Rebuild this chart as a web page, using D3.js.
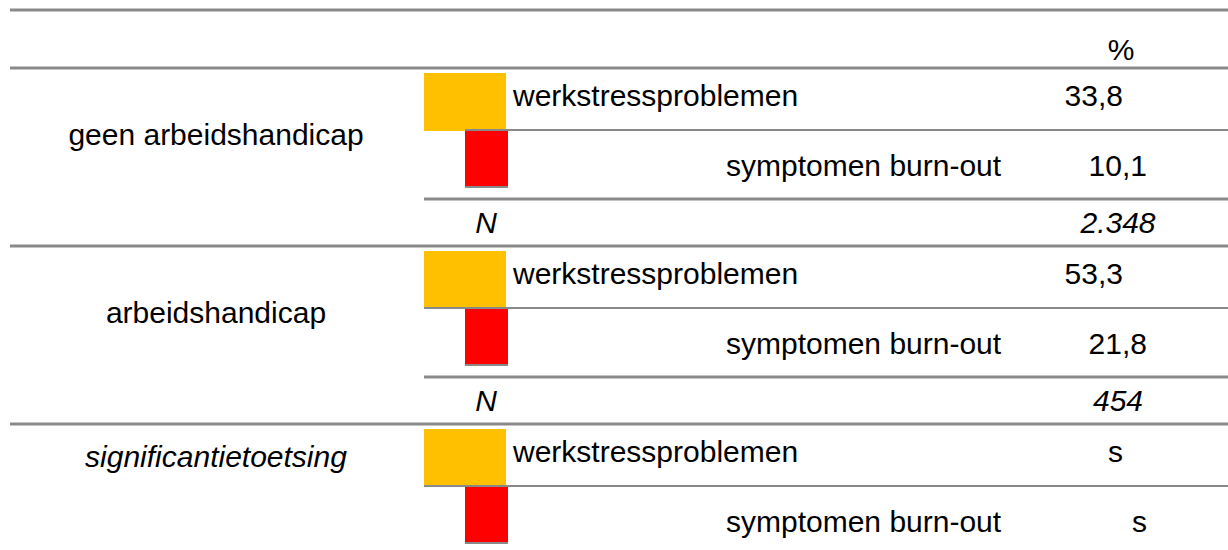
<!DOCTYPE html>
<html>
<head>
<meta charset="utf-8">
<script src="https://cdn.jsdelivr.net/npm/d3@7"></script>
<style>
  body { margin: 0; background: #fff; }
  text { font-family: "Liberation Sans", Arial, sans-serif; font-size: 30px; fill: #000; }
</style>
</head>
<body>
<div id="chart"></div>
<script>
// data
var groepen = ["geen arbeidshandicap", "arbeidshandicap", "significantietoetsing"]
var reeksen = ["werkstressproblemen", "symptomen burn-out"]
var werkstress = [33.8, 53.3, "s"]
var burnout = [10.1, 21.8, "s"]
var aantal = [2348, 454, null]
var kleuren = ["#FFC000", "#FF0000"]
var kolomKop = "%"

var width = 1228
var height = 550
var lijnKleur = "#898989"

var svg = d3.select("#chart").append("svg")
    .attr("width", width)
    .attr("height", height)

// one band per group
var y = d3.scaleBand()
    .domain(groepen)
    .range([68, 68 + 178 * groepen.length])

var kleur = d3.scaleOrdinal().domain(reeksen).range(kleuren)

// swatch width, every value is past the domain so it clamps full
var balk = d3.scaleLinear().domain([0, 10]).range([0, 1]).clamp(true)

var fmt = function (v) {
    if (typeof v === "number") return d3.format(".1f")(v).replace(".", ",")
    return v
}
var fmtN = function (v) { return d3.format(",")(v).replace(/,/g, ".") }

// swatch / label / value positions per series
var rij = [
    { x: 424, w: 82, top: 5, h: 58, tx: 513, vx: 1123, base: 38, line: 62, lineX: 465 },
    { x: 465, w: 43, top: 62, h: 57, tx: 726, vx: 1147, base: 108, line: 119, lineX: 465 }
]

function hline(y0, x0, x1, sw) {
    svg.append("line")
        .attr("x1", x0).attr("x2", x1)
        .attr("y1", y0).attr("y2", y0)
        .attr("stroke", lijnKleur)
        .attr("stroke-width", sw)
}

// header
hline(10, 10, width, 3)
hline(68, 10, width, 3)
svg.append("text")
    .attr("x", 1121).attr("y", 60)
    .attr("text-anchor", "middle")
    .text(kolomKop)

groepen.forEach(function (g, gi) {
    var top = y(g)
    var waarden = [werkstress[gi], burnout[gi]]
    var heeftN = aantal[gi] !== null

    if (gi > 0) hline(top, 10, width, 3)

    svg.append("text")
        .attr("x", 216)
        .attr("y", top + (heeftN ? 77 : 43))
        .attr("text-anchor", "middle")
        .style("font-style", gi === 2 ? "italic" : "normal")
        .text(g)

    reeksen.forEach(function (s, si) {
        var r = rij[si]
        var v = waarden[si]
        var frac = typeof v === "number" ? balk(v) : 1

        svg.append("rect")
            .attr("x", r.x)
            .attr("y", top + r.top)
            .attr("width", r.w * frac)
            .attr("height", r.h)
            .attr("fill", kleur(s))

        svg.append("text")
            .attr("x", r.tx)
            .attr("y", top + r.base)
            .text(s)

        svg.append("text")
            .attr("x", r.vx)
            .attr("y", top + r.base)
            .attr("text-anchor", "end")
            .text(fmt(v))
    })

    // thin separator between the two series, drawn over the yellow swatch
    hline(top + 62, gi === 0 ? 465 : 424, width, 2)
    // bottom edge of the red swatch
    hline(top + 119, 465, 508, 2)

    if (heeftN) {
        hline(top + 131, 424, width, 3)
        svg.append("text")
            .attr("x", 486).attr("y", top + 165)
            .attr("text-anchor", "middle")
            .style("font-style", "italic")
            .text("N")
        svg.append("text")
            .attr("x", 1118).attr("y", top + 165)
            .attr("text-anchor", "middle")
            .style("font-style", "italic")
            .text(fmtN(aantal[gi]))
    }
})
</script>
</body>
</html>
